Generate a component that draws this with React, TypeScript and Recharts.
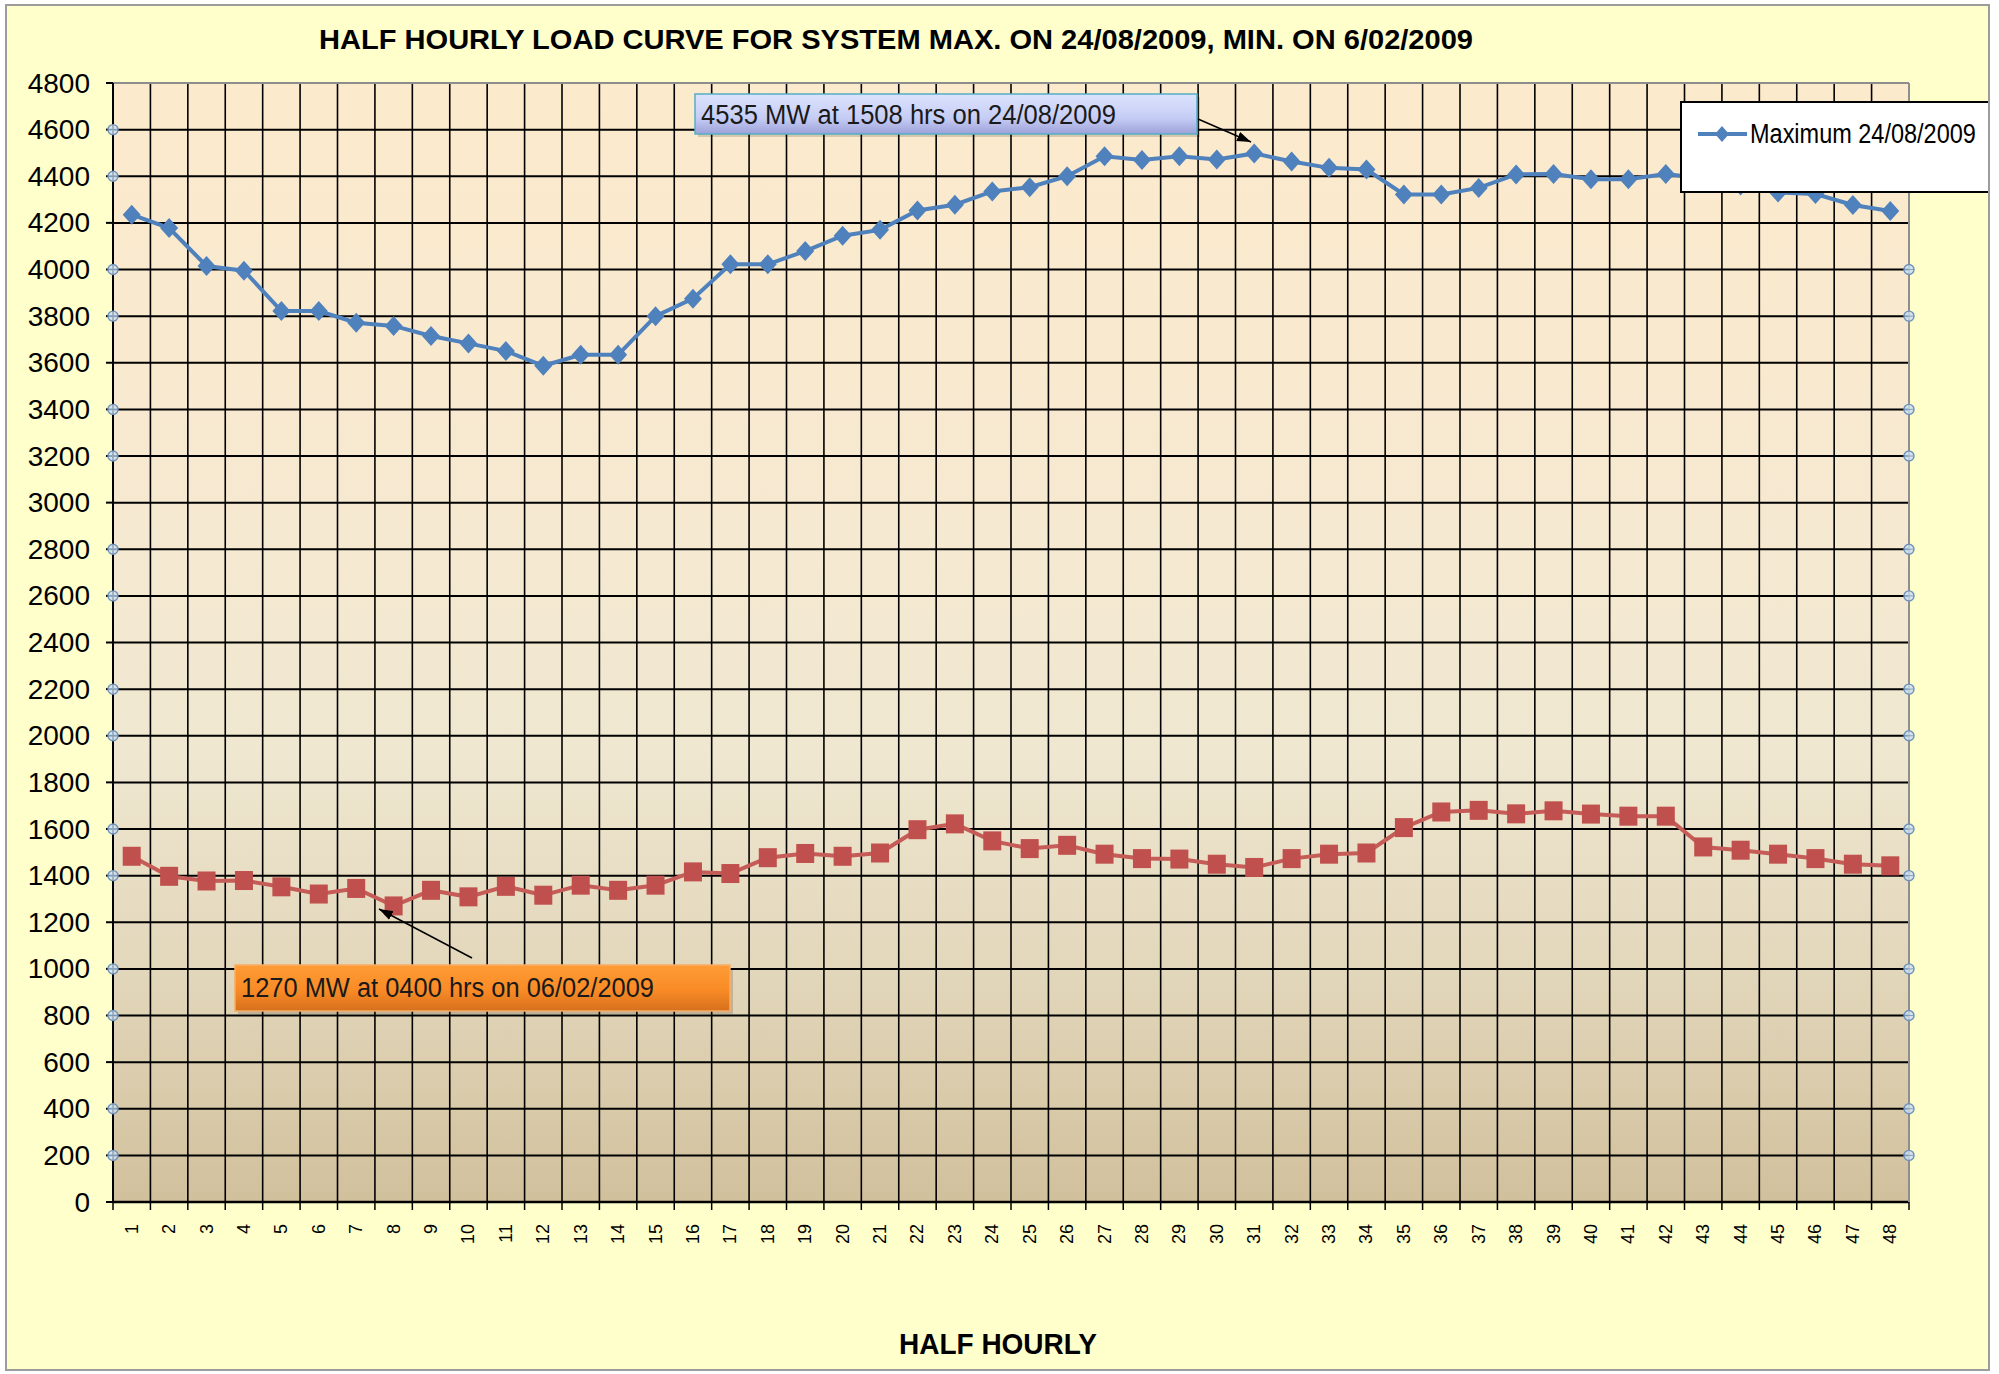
import React from "react";
import {
  LineChart,
  Line,
  XAxis,
  YAxis,
  CartesianGrid,
  ReferenceLine,
} from "recharts";

// half-hour slots 1..48
const SLOTS = [
  "1", "2", "3", "4", "5", "6", "7", "8", "9", "10", "11", "12",
  "13", "14", "15", "16", "17", "18", "19", "20", "21", "22", "23", "24",
  "25", "26", "27", "28", "29", "30", "31", "32", "33", "34", "35", "36",
  "37", "38", "39", "40", "41", "42", "43", "44", "45", "46", "47", "48",
];

// system maximum day, 24/08/2009 (MW)
const MAX_LOAD = [
  4235, 4178, 4015, 3995, 3822, 3822, 3772, 3758, 3715, 3683, 3650, 3587,
  3634, 3634, 3800, 3875, 4022, 4022, 4079, 4145, 4170, 4253, 4278, 4335,
  4353, 4400, 4486, 4470, 4486, 4472, 4498, 4463, 4436, 4429, 4322, 4322,
  4350, 4408, 4410, 4387, 4387, 4410, 4390, 4360, 4330, 4324, 4277, 4251,
];

// system minimum day, 06/02/2009 (MW)
const MIN_LOAD = [
  1483, 1397, 1377, 1379, 1352, 1321, 1345, 1270, 1337, 1309, 1354, 1316,
  1359, 1337, 1359, 1416, 1409, 1477, 1495, 1483, 1497, 1597, 1622, 1549,
  1516, 1530, 1492, 1473, 1471, 1449, 1435, 1473, 1492, 1497, 1606, 1673,
  1680, 1665, 1678, 1664, 1655, 1655, 1523, 1509, 1492, 1473, 1449, 1442,
];

const Y_TICKS = [
  0, 200, 400, 600, 800, 1000, 1200, 1400, 1600, 1800, 2000, 2200, 2400,
  2600, 2800, 3000, 3200, 3400, 3600, 3800, 4000, 4200, 4400, 4600, 4800,
];

// gridline selection handles left on the Excel original
const HANDLE_VALUES = [
  4600, 4400, 4000, 3800, 3400, 3200, 2800, 2600, 2200, 2000, 1600, 1400,
  1000, 800, 400, 200,
];

const data = SLOTS.map((slot, i) => ({
  slot,
  max: MAX_LOAD[i],
  min: MIN_LOAD[i],
}));

const FONT = '"Liberation Sans", Arial, sans-serif';
const BLUE = "#4F81BD";
const RED = "#C0504D";

const BOX_W = 1985;
const BOX_H = 1367;
const Y_AXIS_W = 108;
const RIGHT_W = 81;
const PLOT_W = BOX_W - Y_AXIS_W - RIGHT_W;
const BAND = PLOT_W / SLOTS.length;
const Y_MAX = 4800;
const TICK_GAP = 23; // tickSize + tickMargin of the load axis

function Handle({ cx, cy }: { cx: number; cy: number }) {
  return (
    <g>
      <circle cx={cx} cy={cy} r={5} fill="rgba(205,222,240,0.8)" stroke="#6d93bd" strokeWidth={1.4} />
      <line x1={cx - 5} x2={cx + 5} y1={cy} y2={cy} stroke="#6d93bd" strokeWidth={0.8} />
    </g>
  );
}

function LoadTick({ x, y, payload }: any) {
  const v = payload.value;
  const axisX = x + TICK_GAP;
  return (
    <g>
      <text
        x={x}
        y={y}
        textAnchor="end"
        dominantBaseline="central"
        fontSize={28}
        fontFamily={FONT}
        fill="#000"
      >
        {v}
      </text>
      {HANDLE_VALUES.includes(v) && (
        <>
          <Handle cx={axisX} cy={y} />
          <Handle cx={axisX + PLOT_W} cy={y} />
        </>
      )}
    </g>
  );
}

function SlotTick({ x, y, payload }: any) {
  const axisY = y - 22;
  const half = BAND / 2;
  const last = payload.value === SLOTS[SLOTS.length - 1];
  return (
    <g>
      <line x1={x - half} x2={x - half} y1={axisY} y2={axisY + 8} stroke="#000" strokeWidth={1.5} />
      {last && <line x1={x + half} x2={x + half} y1={axisY} y2={axisY + 8} stroke="#000" strokeWidth={1.5} />}
      <text
        transform={`translate(${x},${y}) rotate(-90)`}
        textAnchor="end"
        dominantBaseline="central"
        fontSize={18}
        fontFamily={FONT}
        fill="#000"
      >
        {payload.value}
      </text>
    </g>
  );
}

function renderDiamond(props: any) {
  const { cx, cy, index } = props;
  if (cx == null || cy == null) return <g key={`d-${index}`} />;
  return (
    <polygon
      key={`d-${index}`}
      points={`${cx},${cy - 10} ${cx + 9},${cy} ${cx},${cy + 10} ${cx - 9},${cy}`}
      fill={BLUE}
    />
  );
}

function renderSquare(props: any) {
  const { cx, cy, index } = props;
  if (cx == null || cy == null) return <g key={`s-${index}`} />;
  return <rect key={`s-${index}`} x={cx - 9} y={cy - 9.5} width={18} height={19} fill={RED} />;
}

// plot grid: horizontal lines every 200 MW (top edge drawn grey separately)
const hGrid = ({ offset }: any) =>
  Y_TICKS.filter((v) => v < Y_MAX).map((v) => offset.top + offset.height * (1 - v / Y_MAX));

// vertical lines between the half-hour slots
const vGrid = ({ offset }: any) =>
  SLOTS.slice(1).map((_, i) => offset.left + ((i + 1) * offset.width) / SLOTS.length);

function Overlay() {
  return (
    <svg
      width={1999}
      height={1374}
      style={{ position: "absolute", left: -5, top: -4, pointerEvents: "none" }}
    >
      <defs>
        <linearGradient id="plotBg" x1="0" y1="0" x2="0" y2="1">
          <stop offset="0%" stopColor="#FCEAcc" />
          <stop offset="40%" stopColor="#F6E9D1" />
          <stop offset="60%" stopColor="#EFE7D0" />
          <stop offset="80%" stopColor="#E2D6BA" />
          <stop offset="100%" stopColor="#D1C09C" />
        </linearGradient>
        <linearGradient id="blueBox" x1="0" y1="0" x2="0" y2="1">
          <stop offset="0%" stopColor="#DCE3FD" />
          <stop offset="60%" stopColor="#C6CDF5" />
          <stop offset="100%" stopColor="#9DA1D9" />
        </linearGradient>
        <linearGradient id="orangeBox" x1="0" y1="0" x2="0" y2="1">
          <stop offset="0%" stopColor="#FF9C36" />
          <stop offset="55%" stopColor="#F98B26" />
          <stop offset="100%" stopColor="#D6701C" />
        </linearGradient>
        <marker id="arrowHead" viewBox="0 0 10 10" refX="10" refY="5" markerWidth="14" markerHeight="14" markerUnits="userSpaceOnUse" orient="auto">
          <path d="M0,1.5 L10,5 L0,8.5 z" fill="#000" />
        </marker>
      </defs>

      <text x={319} y={48.5} fontSize={28} fontWeight="bold" fontFamily={FONT} textLength={1154} lengthAdjust="spacingAndGlyphs" fill="#000">
        HALF HOURLY LOAD CURVE FOR SYSTEM MAX. ON 24/08/2009, MIN. ON 6/02/2009
      </text>
      <text x={899} y={1354} fontSize={30} fontWeight="bold" fontFamily={FONT} textLength={198} lengthAdjust="spacingAndGlyphs" fill="#000">
        HALF HOURLY
      </text>

      {/* maximum call-out */}
      <rect x={698} y={97} width={502} height={40} fill="rgba(0,0,0,0.15)" />
      <rect x={695} y={94} width={502} height={40} fill="url(#blueBox)" stroke="#55AFC4" strokeWidth={1.5} />
      <text x={701} y={123.5} fontSize={27} fontFamily={FONT} textLength={415} lengthAdjust="spacingAndGlyphs" fill="#1a1a1a">
        4535 MW at 1508 hrs on 24/08/2009
      </text>
      <line x1={1198} y1={119} x2={1251} y2={142} stroke="#000" strokeWidth={1.5} markerEnd="url(#arrowHead)" />

      {/* minimum call-out */}
      <rect x={238} y={968} width={495} height={46} fill="rgba(0,0,0,0.15)" />
      <rect x={235} y={965} width={495} height={46} fill="url(#orangeBox)" stroke="#F6AD66" strokeWidth={1.5} />
      <text x={241} y={997} fontSize={27} fontFamily={FONT} textLength={413} lengthAdjust="spacingAndGlyphs" fill="#1a1a1a">
        1270 MW at 0400 hrs on 06/02/2009
      </text>
      <line x1={472} y1={958} x2={379} y2={909} stroke="#000" strokeWidth={1.5} markerEnd="url(#arrowHead)" />

      {/* legend, running into the chart frame on the right */}
      <rect x={1681} y={102} width={309} height={90} fill="#fff" stroke="#000" strokeWidth={2} />
      <line x1={1698} x2={1747} y1={134} y2={134} stroke={BLUE} strokeWidth={4} />
      <polygon points="1722,126 1729,134 1722,142 1715,134" fill={BLUE} />
      <text transform="translate(1750,143.3) scale(1,1.17)" fontSize={23.5} fontFamily={FONT} fill="#000">
        Maximum 24/08/2009
      </text>
    </svg>
  );
}

export default function App() {
  return (
    <div style={{ position: "absolute", left: 0, top: 0, width: 1999, height: 1374, background: "#fff", overflow: "hidden" }}>
      <div
        style={{
          position: "absolute",
          left: 5,
          top: 4,
          width: BOX_W,
          height: BOX_H,
          background: "#FFFFCC",
          overflow: "hidden",
        }}
      >
        <LineChart
          width={BOX_W}
          height={BOX_H}
          data={data}
          margin={{ top: 79, right: 0, bottom: 109, left: 0 }}
        >
          <CartesianGrid
            vertical={false}
            horizontalCoordinatesGenerator={hGrid}
            stroke="#000"
            strokeWidth={2}
            fill="url(#plotBg)"
            fillOpacity={1}
          />
          <CartesianGrid horizontal={false} verticalCoordinatesGenerator={vGrid} stroke="#000" strokeWidth={1.6} />
          <XAxis
            dataKey="slot"
            interval={0}
            padding={{ left: BAND / 2, right: BAND / 2 }}
            height={60}
            tickSize={7}
            tickMargin={15}
            tickLine={false}
            axisLine={{ stroke: "#000", strokeWidth: 2.5 }}
            tick={<SlotTick />}
          />
          <YAxis
            domain={[0, Y_MAX]}
            ticks={Y_TICKS}
            interval={0}
            width={Y_AXIS_W}
            tickSize={7}
            tickMargin={TICK_GAP - 7}
            tickLine={{ stroke: "#000", strokeWidth: 2 }}
            axisLine={{ stroke: "#000", strokeWidth: 2 }}
            tick={<LoadTick />}
          />
          <YAxis
            yAxisId="right"
            orientation="right"
            domain={[0, Y_MAX]}
            ticks={Y_TICKS}
            width={RIGHT_W}
            tickLine={false}
            tick={false}
            axisLine={{ stroke: "#8e8e8e", strokeWidth: 2 }}
          />
          <ReferenceLine y={Y_MAX} stroke="#8e8e8e" strokeWidth={2} />
          <Line
            type="linear"
            dataKey="max"
            name="Maximum 24/08/2009"
            stroke={BLUE}
            strokeWidth={4}
            dot={renderDiamond}
            activeDot={false}
            isAnimationActive={false}
          />
          <Line
            type="linear"
            dataKey="min"
            name="Minimum 06/02/2009"
            stroke="#C65C58"
            strokeWidth={4}
            dot={renderSquare}
            activeDot={false}
            isAnimationActive={false}
          />
        </LineChart>
        <Overlay />
        <div
          style={{
            position: "absolute",
            left: 0,
            top: 0,
            width: BOX_W,
            height: BOX_H,
            boxSizing: "border-box",
            border: "2px solid #9c9c9c",
            pointerEvents: "none",
          }}
        />
      </div>
    </div>
  );
}
